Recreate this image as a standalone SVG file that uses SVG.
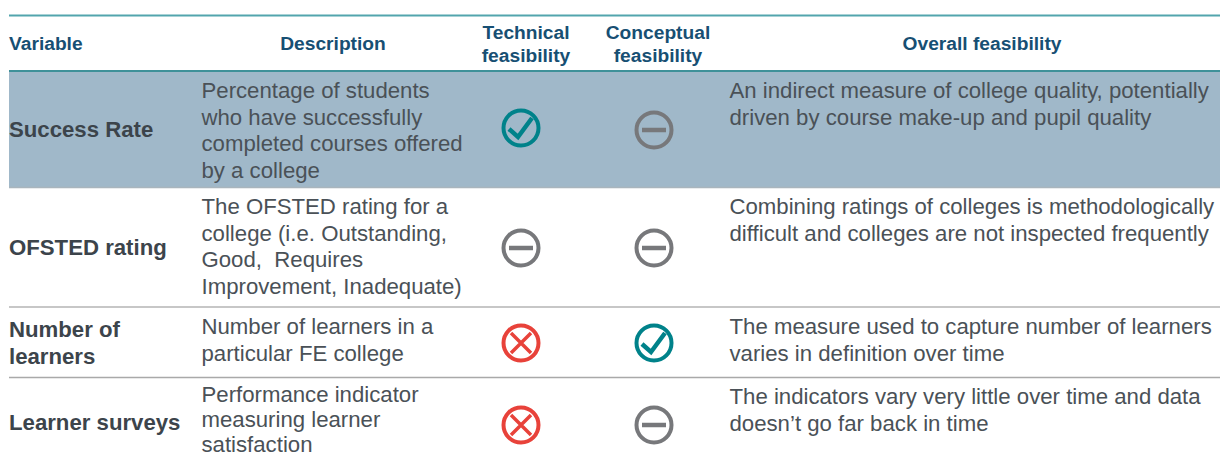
<svg xmlns="http://www.w3.org/2000/svg" width="1220" height="457" viewBox="0 0 1220 457">
<style>
text{font-family:"Liberation Sans",Arial,sans-serif}
.h{font-size:19.2px;font-weight:bold;fill:#174f73;text-anchor:middle}
.v{font-size:22.2px;font-weight:bold;fill:#3c444b}
.d{font-size:22.2px;fill:#4a5157}
.i{fill:none;stroke-width:4}
.g{stroke:#77787b}.t{stroke:#00828a}.r{stroke:#e8423a}
</style>
<defs>
<g id="ok"><circle r="17.500" class="i t"/><path d="M-12 1L-3 9L11 -10" class="i t" style="stroke-width:4.500"/></g>
<g id="no"><circle r="17.500" class="i g"/><path d="M-12 0H12" class="i g" style="stroke-width:4.500"/></g>
<g id="x"><circle r="17.500" class="i r"/><path d="M-10 -10L10 10M10 -10L-10 10" class="i r" style="stroke-width:3.500"/></g>
</defs>
<rect x="9" y="71" width="1211" height="117" fill="#a0b8c9"/>
<g id="rules" fill="none">
<path d="M9 15.500H1220" stroke="#52a5ad" stroke-width="2"/>
<path d="M9 71H1220" stroke="#3f9199" stroke-width="2"/>
<path d="M9 187.500H1220" stroke="#a9b5bd" stroke-width="1.500"/>
<path d="M9 307H1220" stroke="#b5b5b5" stroke-width="1.500"/>
<path d="M9 377.500H1220" stroke="#a9a9a9" stroke-width="1.500"/>
</g>
<g id="header">
<text x="9" y="50" class="h" style="text-anchor:start">Variable</text>
<text x="333" y="50" class="h">Description</text>
<text x="526" y="39" class="h">Technical</text>
<text x="526" y="62" class="h">feasibility</text>
<text x="658" y="39" class="h">Conceptual</text>
<text x="658" y="62" class="h">feasibility</text>
<text x="982" y="50" class="h">Overall feasibility</text>
</g>
<g id="row1">
<text x="9" y="137" class="v">Success Rate</text>
<text class="d"><tspan x="201.500" y="98">Percentage of students</tspan><tspan x="201.500" y="125">who have successfully</tspan><tspan x="201.500" y="151">completed courses offered</tspan><tspan x="201.500" y="178">by a college</tspan></text>
<use href="#ok" x="521" y="128"/><use href="#no" x="654" y="130"/>
<text class="d"><tspan x="729.500" y="98">An indirect measure of college quality, potentially</tspan><tspan x="729.500" y="125">driven by course make-up and pupil quality</tspan></text>
</g>
<g id="row2">
<text x="9" y="255" class="v">OFSTED rating</text>
<text class="d"><tspan x="201.500" y="214">The OFSTED rating for a</tspan><tspan x="201.500" y="241">college (i.e. Outstanding,</tspan><tspan x="201.500" y="267">Good,&#160; Requires</tspan><tspan x="201.500" y="294">Improvement, Inadequate)</tspan></text>
<use href="#no" x="521" y="248"/><use href="#no" x="654" y="248"/>
<text class="d"><tspan x="729.500" y="214">Combining ratings of colleges is methodologically</tspan><tspan x="729.500" y="241">difficult and colleges are not inspected frequently</tspan></text>
</g>
<g id="row3">
<text class="v"><tspan x="9" y="337">Number of</tspan><tspan x="9" y="364">learners</tspan></text>
<text class="d"><tspan x="201.500" y="334">Number of learners in a</tspan><tspan x="201.500" y="361">particular FE college</tspan></text>
<use href="#x" x="521" y="343"/><use href="#ok" x="654" y="343"/>
<text class="d"><tspan x="729.500" y="334">The measure used to capture number of learners</tspan><tspan x="729.500" y="361">varies in definition over time</tspan></text>
</g>
<g id="row4">
<text x="9" y="430" class="v">Learner surveys</text>
<text class="d"><tspan x="201.500" y="402">Performance indicator</tspan><tspan x="201.500" y="427">measuring learner</tspan><tspan x="201.500" y="452">satisfaction</tspan></text>
<use href="#x" x="521" y="425"/><use href="#no" x="654" y="425"/>
<text class="d"><tspan x="729.500" y="404">The indicators vary very little over time and data</tspan><tspan x="729.500" y="431">doesn’t go far back in time</tspan></text>
</g>
</svg>
